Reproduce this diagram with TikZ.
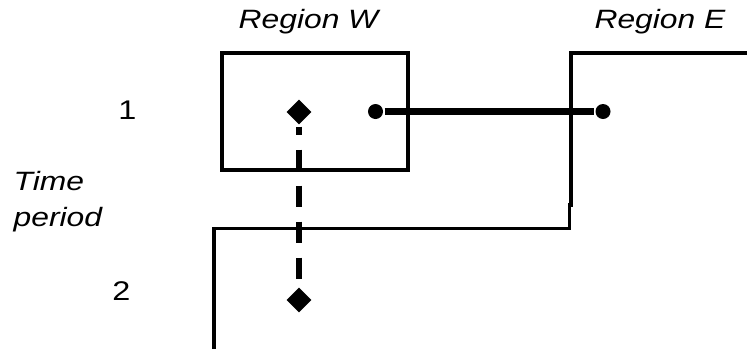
\documentclass[tikz,border=0pt]{standalone}
\usepackage{fontspec}
\setmainfont{Liberation Sans}
\usetikzlibrary{shapes.geometric}
\newcommand{\xwide}[1]{\scalebox{1.2}[1]{#1}}
\tikzset{
  every picture/.style={line width=3.3pt},
  lbl/.style={font=\fontsize{26.5}{36}\selectfont\itshape, inner sep=0pt},
  num/.style={font=\fontsize{27}{30}\selectfont, inner sep=0pt},
  wbox/.style={draw, rectangle, minimum width=186pt, minimum height=117pt, inner sep=0pt},
  dot/.style={circle, fill, minimum size=15pt, inner sep=0pt},
  dia/.style={diamond, fill, minimum width=26pt, minimum height=26pt, inner sep=0pt},
  link/.style={line width=6.5pt},
  dashlink/.style={line width=6.5pt, dash pattern=on 21pt off 15pt, dash phase=13pt},
}
\begin{document}
\begin{tikzpicture}[x=1pt, y=-1pt]
  \useasboundingbox (0,0) rectangle (747,349);
  % headings and time axis
  \node[lbl, anchor=base] (regW) at (308.5,28) {\xwide{Region W}};
  \node[lbl, anchor=base] (regE) at (660,28) {\xwide{Region E}};
  \node[num, anchor=base] (t1) at (127.5,119) {\xwide{1}};
  \node[num, anchor=base] (t2) at (121.5,300) {\xwide{2}};
  \node[lbl, align=left, anchor=base west] (tp) at (12,226.5) {\xwide{Time}\\\xwide{period}};
  % region W box
  \node[wbox] (box) at (315,111.5) {};
  % boundary between the regions
  \draw (747,53) -- (571,53) -- (571,205) -- (569.7,205) -- (569.7,228.5) -- (214,228.5) -- (214,349);
  % markers
  \node[dia] (d1) at (299,112) {};
  \node[dia] (d2) at (299,300) {};
  \node[dot] (wdot) at (375.5,111.5) {};
  \node[dot] (edot) at (603,111.5) {};
  \draw[link] (wdot) -- (edot);
  \draw[dashlink] (d1) -- (d2);
\end{tikzpicture}
\end{document}
